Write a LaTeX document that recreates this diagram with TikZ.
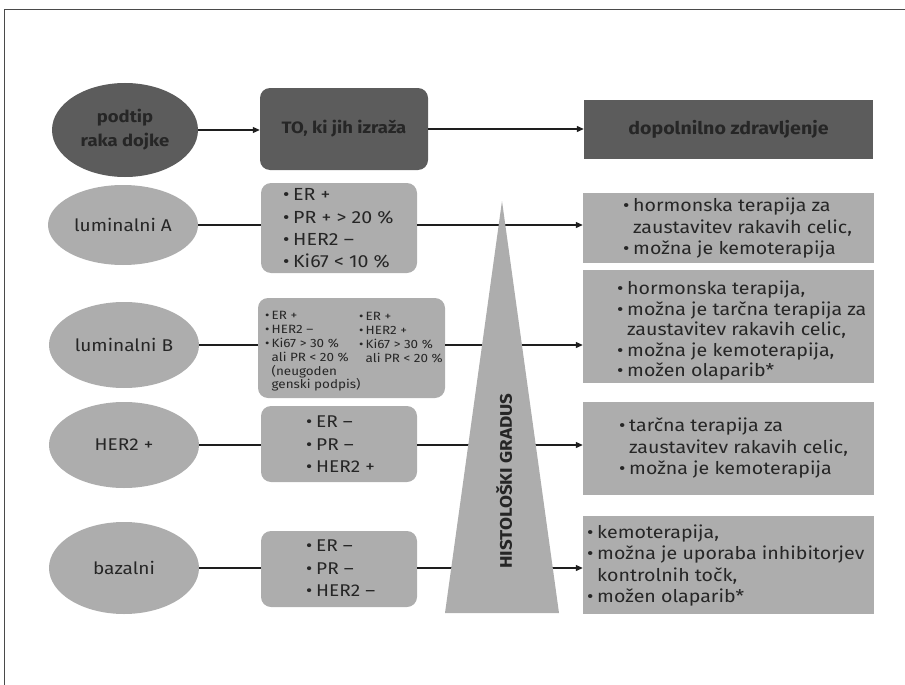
\documentclass[tikz,border=0pt]{standalone}
\usepackage{fontspec}
\setmainfont{Fira Sans}[FakeStretch=1.12]
\usetikzlibrary{shapes.geometric,arrows.meta}
\definecolor{dk}{HTML}{5C5C5C}
\definecolor{lt}{HTML}{ADADAD}
\definecolor{tx}{HTML}{262626}
\definecolor{ln}{HTML}{1E1E1E}
\definecolor{fr}{HTML}{4A4A4A}
\newcommand\bl{\makebox[10pt][l]{•}}
\newcommand\nb{\hspace*{10pt}}
\newcommand\sbl{\makebox[6.5pt][l]{•}}
\newcommand\snb{\hspace*{6.5pt}}
\begin{document}
\begin{tikzpicture}[x=1pt,y=-1pt,
  hell/.style={ellipse, fill=dk, minimum width=146pt, minimum height=94pt, inner sep=0pt, align=center, text=tx, font=\bfseries\fontsize{16.5}{24}\selectfont},
  ell/.style={ellipse, fill=lt, minimum width=150pt, inner sep=0pt, text=tx, font=\fontsize{17}{20}\selectfont},
  rbox/.style={rectangle, rounded corners=10pt, fill=lt, inner sep=0pt},
  sbox/.style={rectangle, fill=lt, inner sep=0pt},
  txt/.style={anchor=west, align=left, inner sep=0pt, text=tx, font=\fontsize{17.5}{21.5}\selectfont},
  stxt/.style={anchor=west, align=left, inner sep=0pt, text=tx, font=\fontsize{12}{13.8}\selectfont},
  conn/.style={draw=ln, line width=1.1pt},
  arr/.style={conn, -{Triangle[length=7pt,width=6pt]}}
]
\useasboundingbox (0,0) rectangle (905,685);
\draw[fr, line width=1.5pt] (4.5,685) -- (4.5,9.5) -- (905,9.5);

% header
\node[hell] (e0) at (125,130) {podtip\\raka dojke};
\node[rbox, fill=dk, minimum width=168pt, minimum height=82pt, text=tx, font=\bfseries\fontsize{16.5}{20}\selectfont] (to) at (344,129) {TO, ki jih izraža};
\node[sbox, fill=dk, minimum width=289pt, minimum height=59pt, text=tx, font=\bfseries\fontsize{17.5}{20}\selectfont] (dz) at (728.5,129.5) {dopolnilno zdravljenje};

% ellipses
\node[ell, minimum height=80pt] (e1) at (123,225) {luminalni A};
\node[ell, minimum height=86pt] (e2) at (124,345) {luminalni B};
\node[ell, minimum height=86pt] (e3) at (124,445) {HER2 +};
\node[ell, minimum height=92pt] (e4) at (124,568) {bazalni};

% middle boxes
\node[rbox, minimum width=156pt, minimum height=90pt] (r1) at (339,228) {};
\node[rbox, minimum width=187pt, minimum height=100pt] (r2) at (351.5,348) {};
\node[rbox, minimum width=156pt, minimum height=76pt] (r3) at (339,444) {};
\node[rbox, minimum width=156pt, minimum height=76pt] (r4) at (339,569) {};

% right boxes
\node[sbox, minimum width=291pt, minimum height=70pt] (b1) at (728.5,228) {};
\node[sbox, minimum width=291pt, minimum height=113pt] (b2) at (728.5,326.5) {};
\node[sbox, minimum width=291pt, minimum height=93pt] (b3) at (728.5,448.5) {};
\node[sbox, minimum width=291pt, minimum height=98pt] (b4) at (728.5,565) {};

% connectors
\draw[arr] (e0) -- (e0 -| to.west);
\draw[arr] (to.east) -- (to.east -| dz.west);
\draw[conn] (e1) -- (e1 -| r1.west);
\draw[arr] (e1 -| r1.east) -- (e1 -| b1.west);
\draw[conn] (e2) -- (e2 -| r2.west);
\draw[arr] (e2 -| r2.east) -- (e2 -| b2.west);
\draw[conn] (e3) -- (e3 -| r3.west);
\draw[arr] (e3 -| r3.east) -- (e3 -| b3.west);
\draw[conn] (e4) -- (e4 -| r4.west);
\draw[arr] (e4 -| r4.east) -- (e4 -| b4.west);

% triangle
\fill[lt] (502,201) -- (559,613) -- (445,613) -- cycle;
\node[rotate=90, inner sep=0pt, text=tx, font=\bfseries\fontsize{16.8}{20}\selectfont] (hg) at (504,481) {HISTOLOŠKI GRADUS};

% texts
\node[txt, font=\fontsize{17.5}{22.3}\selectfont] (t1) at (283,228.5) {\bl ER +\\\bl PR + > 20 \%\\\bl HER2 –\\\bl Ki67 < 10 \%};
\node[stxt] (t2a) at (265,351.5) {\sbl ER +\\\sbl HER2 –\\\sbl Ki67 > 30 \%\\\snb ali PR < 20 \%\\\snb (neugoden\\\snb genski podpis)};
\node[stxt] (t2b) at (359,337.5) {\sbl ER +\\\sbl HER2 +\\\sbl Ki67 > 30 \%\\\snb ali PR < 20 \%};
\node[txt, font=\fontsize{17}{22.5}\selectfont] (t3) at (306,444.5) {\bl ER –\\\bl PR –\\\bl HER2 +};
\node[txt, font=\fontsize{17}{22.5}\selectfont] (t4) at (306,568.5) {\bl ER –\\\bl PR –\\\bl HER2 –};

\node[txt] (u1) at (623,228.5) {\bl hormonska terapija za\\\nb zaustavitev rakavih celic,\\\bl možna je kemoterapija};
\node[txt, font=\fontsize{17.5}{20.5}\selectfont] (u2) at (617,331) {\bl hormonska terapija,\\\bl možna je tarčna terapija za\\\nb zaustavitev rakavih celic,\\\bl možna je kemoterapija,\\\bl možen olaparib*};
\node[txt] (u3) at (619,448) {\bl tarčna terapija za\\\nb zaustavitev rakavih celic,\\\bl možna je kemoterapija};
\node[txt] (u4) at (587,565.5) {\bl kemoterapija,\\\bl možna je uporaba inhibitorjev\\\nb kontrolnih točk,\\\bl možen olaparib*};
\end{tikzpicture}
\end{document}
